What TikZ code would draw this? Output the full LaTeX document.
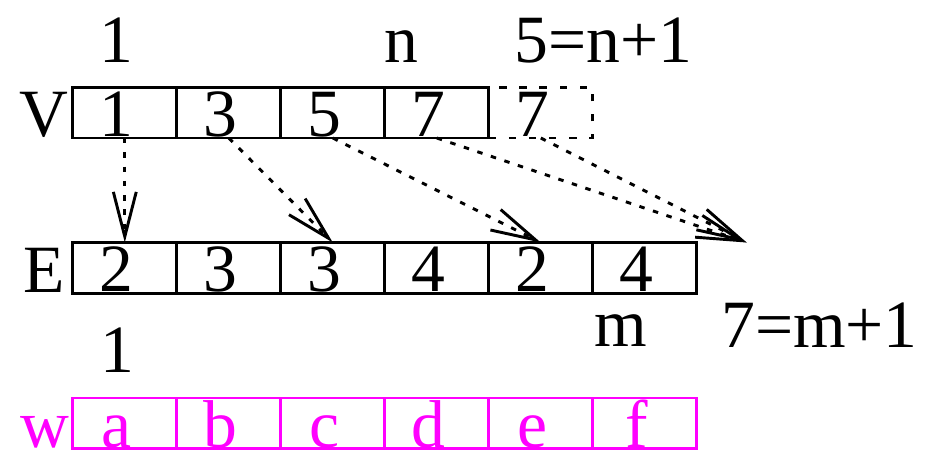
\documentclass[tikz,border=0pt]{standalone}
\usepackage{fontspec}
\setmainfont{Liberation Serif}
\usepackage{xcolor}
\usepackage{tikz}
\usetikzlibrary{arrows.meta, positioning}
\definecolor{wmagenta}{RGB}{255, 0, 255}
\tikzset{
  cell/.style={rectangle, draw, line width=0.8pt, minimum width=1cm,
    minimum height=0.49cm, inner sep=0pt, outer sep=0pt,
    text height=0.46cm, text depth=0pt,
    execute at begin node={\hspace*{-1.6mm}}},
  ghostcell/.style={cell, draw, dash pattern=on 2pt off 3.5pt},
  wcell/.style={cell, draw=wmagenta, text=wmagenta},
  lbl/.style={anchor=base, inner sep=0pt},
  link/.style={line width=0.8pt, dash pattern=on 1.5pt off 2.4pt,
    -{Straight Barb[length=0.43cm, width=0.22cm, line width=0.8pt]}}
}

\begin{document}
\begin{tikzpicture}[every node/.append style={font=\fontsize{18.5}{20}\selectfont}]
\useasboundingbox (0,0) rectangle (8.933,4.337);

% V array
\node (v1) [cell] at (1.2,3.255) {1};
\node (v2) [cell, right=0pt of v1] {3};
\node (v3) [cell, right=0pt of v2] {5};
\node (v4) [cell, right=0pt of v3] {7};
\node (v5) [ghostcell, right=0pt of v4] {7};

% E array
\node (e1) [cell] at (1.2,1.76) {2};
\node (e2) [cell, right=0pt of e1] {3};
\node (e3) [cell, right=0pt of e2] {3};
\node (e4) [cell, right=0pt of e3] {4};
\node (e5) [cell, right=0pt of e4] {2};
\node (e6) [cell, right=0pt of e5] {4};
\coordinate (tip) at ([xshift=0.48cm]e6.north east);

% w array
\node (w1) [wcell] at (1.2,0.265) {a};
\node (w2) [wcell, right=0pt of w1] {b};
\node (w3) [wcell, right=0pt of w2] {c};
\node (w4) [wcell, right=0pt of w3] {d};
\node (w5) [wcell, right=0pt of w4] {e};
\node (w6) [wcell, right=0pt of w5] {f};

% names and indices
\node (vname) [lbl] at ([xshift=-0.28cm, yshift=0.01cm]v1.south west) {V};
\node (ename) [lbl] at ([xshift=-0.28cm, yshift=0.01cm]e1.south west) {E};
\node (wname) [lbl, text=wmagenta] at ([xshift=-0.27cm, yshift=0.01cm]w1.south west) {w};
\node (vfirst) [lbl] at ([xshift=-0.08cm, yshift=0.24cm]v1.north) {1};
\node (vlast)  [lbl] at ([xshift=-0.34cm, yshift=0.24cm]v4.north) {n};
\node (vend)   [lbl] at ([xshift=0.6cm, yshift=0.24cm]v5.north) {5=n+1};
\node (efirst) [lbl] at ([xshift=-0.07cm, yshift=-0.76cm]e1.south) {1};
\node (elast)  [lbl] at ([xshift=-0.23cm, yshift=-0.51cm]e6.south) {m};
\node (eend)   [lbl] at ([xshift=1.68cm, yshift=-0.52cm]e6.south) {7=m+1};

% pointers from V into E
\draw[link] (v1.south) -- (e1.north);
\draw[link] (v2.south) -- (e3.north);
\draw[link] (v3.south) -- (e5.north);
\draw[link] (v4.south) -- (tip);
\draw[link] (v5.south) -- (tip);
\end{tikzpicture}
\end{document}
